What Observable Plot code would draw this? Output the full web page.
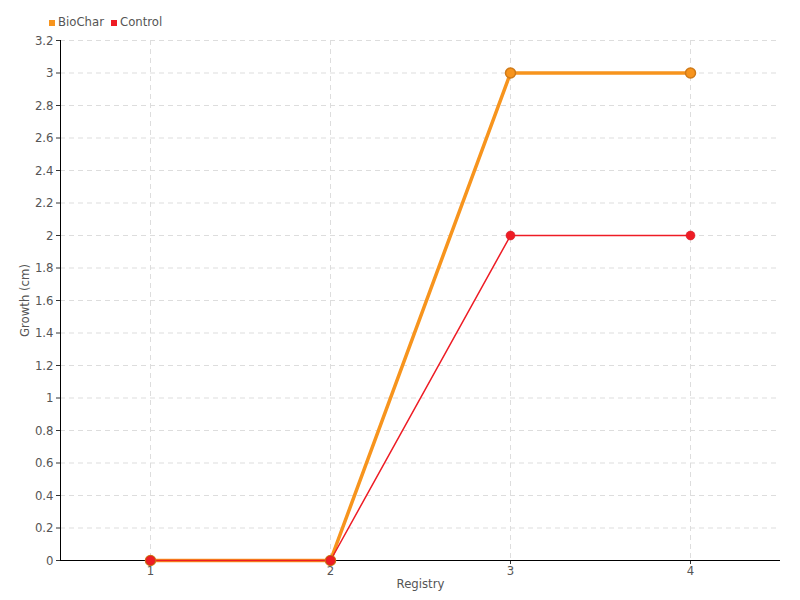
<!DOCTYPE html>
<html><head><meta charset="utf-8">
<script src="https://cdn.jsdelivr.net/npm/d3@7"></script>
<script src="https://cdn.jsdelivr.net/npm/@observablehq/plot@0.6"></script>
<style>
body{margin:0;background:#fff;font-family:"Liberation Sans Narrow","DejaVu Sans Condensed",sans-serif;}
#wrap{position:relative;width:800px;height:600px;}
#legend{position:absolute;left:49px;top:14px;font-size:13px;color:#555;display:flex;gap:7px;align-items:center;}
#legend span.sw{display:inline-block;width:6px;height:6px;margin-right:3px;vertical-align:middle;}
</style></head><body>
<div id="wrap"><div id="legend"></div></div>
<script>
const registry = [1, 2, 3, 4];
const biocharGrowth = [0, 0, 3, 3];
const controlGrowth = [0, 0, 2, 2];
const seriesNames = ["BioChar", "Control"];
const seriesColors = ["#f7941d", "#ee1c25"];
const yTicks = [0, 0.2, 0.4, 0.6, 0.8, 1, 1.2, 1.4, 1.6, 1.8, 2, 2.2, 2.4, 2.6, 2.8, 3, 3.2];

const bio = registry.map((r, i) => ({x: r, y: biocharGrowth[i]}));
const ctl = registry.map((r, i) => ({x: r, y: controlGrowth[i]}));

const chart = Plot.plot({
  width: 800, height: 600,
  marginLeft: 60, marginRight: 20, marginTop: 40, marginBottom: 40,
  style: {fontFamily: '"Liberation Sans Narrow","DejaVu Sans Condensed",sans-serif', fontSize: "13px", color: "#555", background: "#fff"},
  x: {domain: [0.5, 4.5]},
  y: {domain: [0, 3.2]},
  marks: [
    Plot.gridX(registry, {stroke: "#ddd", strokeOpacity: 1, strokeDasharray: "5,4"}),
    Plot.gridY(yTicks.slice(1), {stroke: "#ddd", strokeOpacity: 1, strokeDasharray: "5,4"}),
    Plot.axisX(registry, {tickSize: 4, tickPadding: 1, tickFormat: d => String(d), label: "Registry", labelAnchor: "center", labelArrow: "none", labelOffset: 27, stroke: "#333", fill: "#555"}),
    Plot.axisY(yTicks, {tickSize: 4, tickPadding: 3, tickFormat: d => String(d), label: "Growth (cm)", labelAnchor: "center", labelArrow: "none", labelOffset: 41, stroke: "#333", fill: "#555"}),
    Plot.ruleY([0], {stroke: "#000"}),
    Plot.ruleX([0.5], {stroke: "#000"}),
    Plot.line(bio, {x: "x", y: "y", stroke: seriesColors[0], strokeWidth: 3.5}),
    Plot.line(ctl, {x: "x", y: "y", stroke: seriesColors[1], strokeWidth: 1.5}),
    Plot.dot(bio, {x: "x", y: "y", r: 5, fill: seriesColors[0], stroke: "#d07a18", strokeWidth: 1.5}),
    Plot.dot(ctl, {x: "x", y: "y", r: 4.5, fill: seriesColors[1], stroke: "#d01520", strokeWidth: 0.5})
  ]
});
document.getElementById("wrap").appendChild(chart);
const lg = document.getElementById("legend");
seriesNames.forEach((n, i) => {
  const s = document.createElement("span");
  s.innerHTML = `<span class="sw" style="background:${seriesColors[i]}"></span>${n}`;
  lg.appendChild(s);
});
</script>
</body></html>
